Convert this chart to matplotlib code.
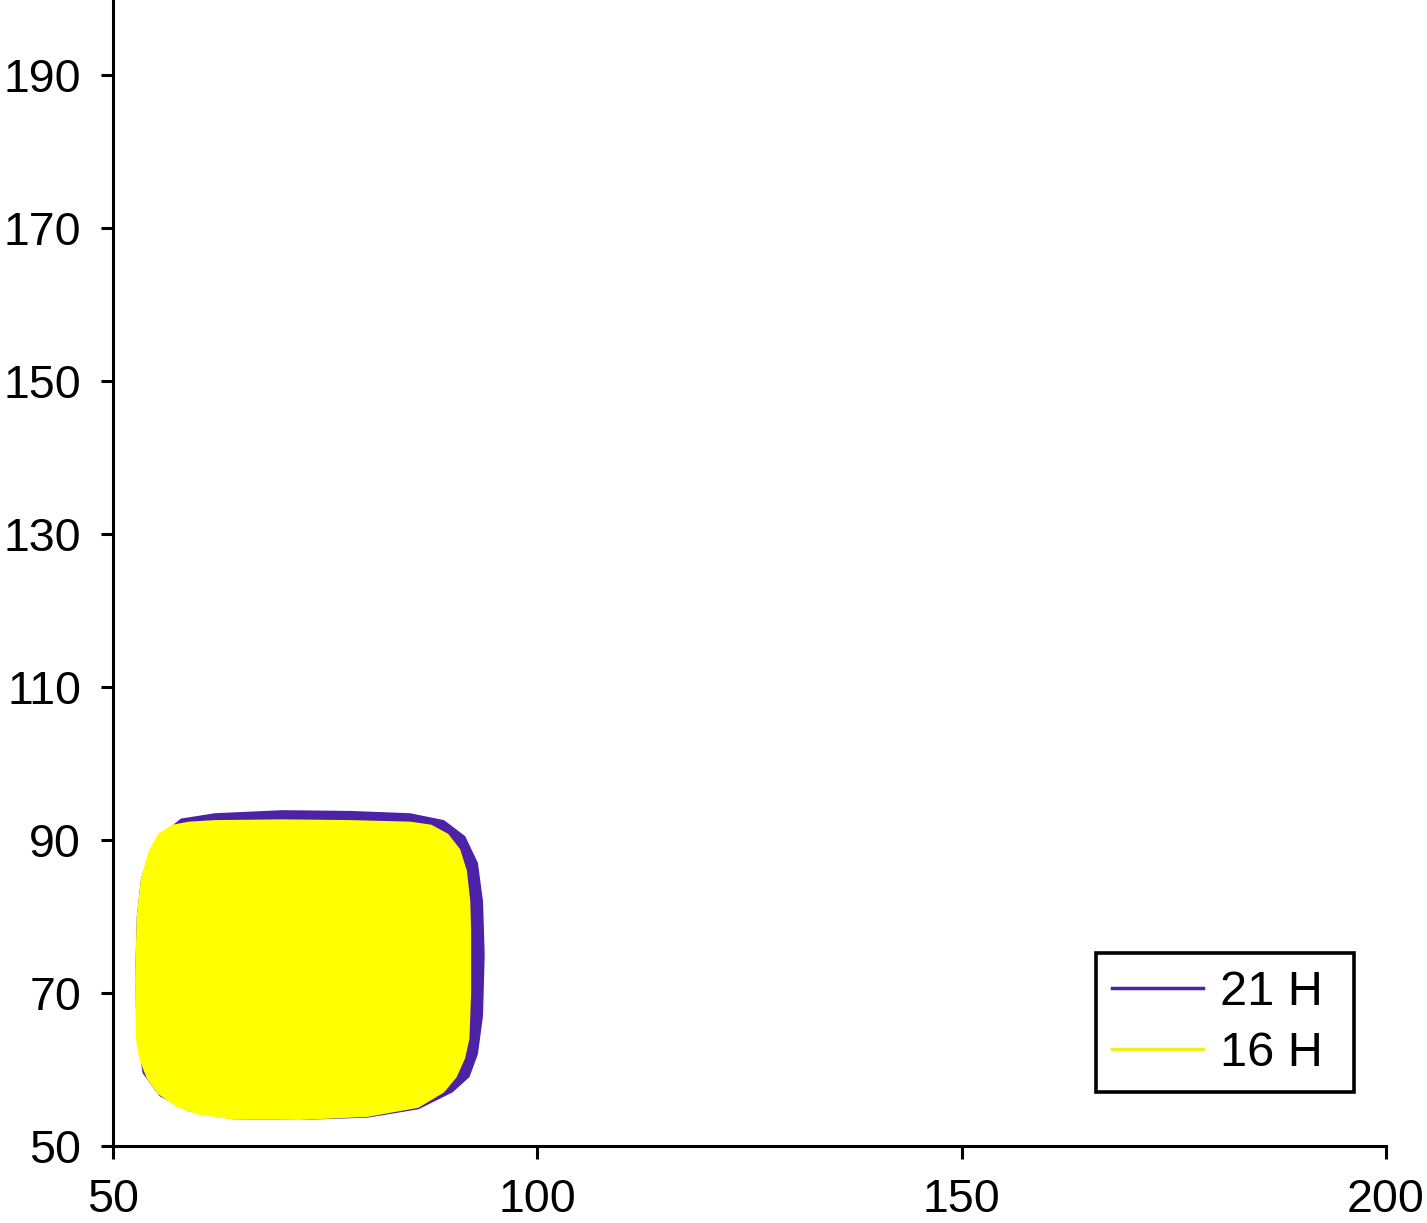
import matplotlib
matplotlib.use("Agg")
import matplotlib.pyplot as plt

plt.rcParams['font.family'] = ['Liberation Sans', 'DejaVu Sans']

labels = ["21 H", "16 H"]
colors = ["#4B22A8", "#FFFF00"]
legend_colors = ["#4B22A8", "#F2EE1A"]

# 21 H loop (volume, pressure)
x21 = [56, 58, 62, 70, 78, 85, 89, 91.5, 93, 93.6, 93.8, 93.6, 93, 92, 90,
       86, 80, 72, 64, 59, 55.5, 53.5, 52.8, 52.6, 52.8, 53.3, 54.5]
y21 = [91, 92.8, 93.5, 93.9, 93.8, 93.5, 92.6, 90.5, 87, 82, 75, 67, 62, 59, 57,
       54.8, 53.7, 53.4, 53.5, 54.5, 56.5, 59.5, 64, 72, 80, 85, 89]

# 16 H loop
x16 = [57, 59, 62, 70, 78, 85, 87.5, 89.5, 90.9, 91.7, 92.1, 92.2, 92.2, 92.0, 91.5,
       90.5, 89, 86, 80, 72, 64, 60, 57.5, 55.3, 54, 53.1, 52.7, 52.6, 52.8, 53.3,
       54.2, 55.3]
y16 = [92.0, 92.4, 92.6, 92.7, 92.6, 92.4, 92.0, 90.8, 88.8, 86, 82, 78, 70, 64, 61.5,
       59, 57, 55.0, 53.8, 53.4, 53.5, 54.1, 55.1, 56.8, 58.8, 61.3, 64, 72, 80, 85,
       88.5, 90.8]

xticks = [50, 100, 150, 200]
yticks = [50, 70, 90, 110, 130, 150, 170, 190]

fig = plt.figure(figsize=(14.27, 12.23), dpi=100)
ax = fig.add_axes([113/1427, 77/1223, 1273/1427, 1146/1223])

ax.fill(x21, y21, color=colors[0], lw=0)
ax.fill(x16, y16, color=colors[1], lw=0)

ax.set_xlim(50, 200)
ax.set_ylim(50, 199.8)
ax.set_xticks(xticks)
ax.set_yticks(yticks)
ax.spines['top'].set_visible(False)
ax.spines['right'].set_visible(False)
for s in ['left', 'bottom']:
    ax.spines[s].set_linewidth(2.2)
ax.tick_params(axis='both', which='major', length=9, width=2.2, labelsize=33.5, direction='out')
ax.tick_params(axis='y', pad=14)
ax.tick_params(axis='x', pad=14)
for lbl in ax.get_yticklabels() + ax.get_xticklabels():
    lbl.set_clip_on(False)

handles = [plt.Line2D([], [], color=c, lw=2.5) for c in legend_colors]
leg = ax.legend(handles, labels, loc='lower left', bbox_to_anchor=(0.772, 0.047, 0.2027, 0.1),
                mode='expand', borderaxespad=0, fontsize=35, frameon=True, fancybox=False,
                framealpha=1, edgecolor='black', handlelength=1.87, handletextpad=0.35,
                labelspacing=0.33, borderpad=0.34)
leg.get_frame().set_linewidth(2.6)

fig.savefig("out.png", dpi=100)
